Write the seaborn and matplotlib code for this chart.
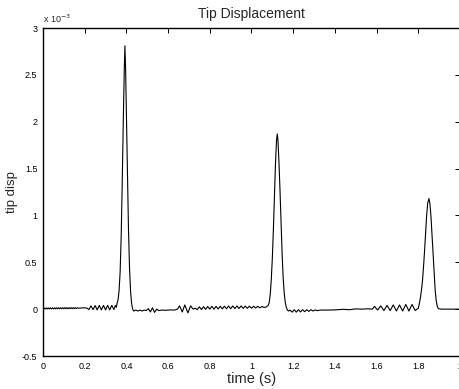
import numpy as np
import pandas as pd
import matplotlib
matplotlib.use("Agg")
import matplotlib.pyplot as plt
import seaborn as sns

# tip displacement, values in units of 1e-3
t_start = [0.000, 0.005, 0.010, 0.015, 0.020, 0.025, 0.030, 0.035, 0.040, 0.045,
           0.050, 0.055, 0.060, 0.065, 0.070, 0.075, 0.080, 0.085, 0.090, 0.095,
           0.100, 0.105, 0.110, 0.115, 0.120, 0.125, 0.130, 0.135, 0.140, 0.145,
           0.150, 0.155, 0.160, 0.165, 0.170, 0.180, 0.195, 0.210]
d_start = [0.000, 0.012, 0.001, 0.013, 0.002, 0.013, 0.002, 0.014, 0.002, 0.014,
           0.003, 0.014, 0.003, 0.015, 0.003, 0.015, 0.004, 0.015, 0.004, 0.015,
           0.004, 0.016, 0.004, 0.016, 0.004, 0.016, 0.005, 0.016, 0.005, 0.016,
           0.005, 0.016, 0.005, 0.016, 0.010, 0.012, 0.014, 0.012]

t_ripple1 = [0.220, 0.230, 0.240, 0.250, 0.260, 0.270, 0.280, 0.290, 0.300,
             0.310, 0.320, 0.330, 0.340, 0.347, 0.352]
d_ripple1 = [-0.005, 0.035, -0.005, 0.038, -0.008, 0.040, -0.008, 0.040, -0.008,
             0.040, -0.008, 0.040, -0.005, 0.040, 0.020]

t_peak1 = [0.355, 0.360, 0.365, 0.370, 0.375, 0.380, 0.385, 0.390, 0.393,
           0.396, 0.400, 0.405, 0.410, 0.415, 0.420, 0.425, 0.430, 0.435]
d_peak1 = [0.06, 0.10, 0.20, 0.40, 0.78, 1.35, 2.00, 2.58, 2.81,
           2.58, 2.10, 1.45, 0.85, 0.44, 0.19, 0.06, 0.00, -0.02]

t_mid1 = [0.445, 0.455, 0.465, 0.475, 0.485, 0.495, 0.505, 0.515, 0.525, 0.535,
          0.545, 0.555, 0.570, 0.590, 0.610, 0.630, 0.645, 0.655, 0.668, 0.680,
          0.695, 0.708, 0.720, 0.730]
d_mid1 = [-0.010, -0.020, -0.010, -0.020, -0.010, -0.015, 0.005, -0.030, 0.015, -0.035,
          0.000, -0.015, -0.010, -0.012, -0.008, -0.010, 0.000, 0.035, -0.030, 0.045,
          -0.040, 0.035, 0.000, 0.010]

t_ripple2 = [0.74, 0.75, 0.76, 0.77, 0.78, 0.79, 0.80, 0.81, 0.82, 0.83, 0.84, 0.85,
             0.86, 0.87, 0.88, 0.89, 0.90, 0.91, 0.92, 0.93, 0.94, 0.95, 0.96, 0.97,
             0.98, 0.99, 1.00, 1.01, 1.02, 1.03, 1.04, 1.05, 1.06, 1.07]
d_ripple2 = [-0.005, 0.025, -0.004, 0.026, -0.002, 0.028, 0.000, 0.030, 0.000, 0.030,
             0.002, 0.031, 0.003, 0.032, 0.004, 0.033, 0.005, 0.034, 0.006, 0.034,
             0.007, 0.034, 0.008, 0.033, 0.009, 0.032, 0.010, 0.031, 0.012, 0.030,
             0.014, 0.028, 0.018, 0.022]

t_peak2 = [1.080, 1.085, 1.090, 1.095, 1.100, 1.105, 1.110, 1.115, 1.120, 1.1235,
           1.127, 1.132, 1.137, 1.142, 1.147, 1.152, 1.157, 1.162, 1.167, 1.172, 1.178]
d_peak2 = [0.04, 0.07, 0.16, 0.32, 0.55, 0.85, 1.20, 1.55, 1.80, 1.87,
           1.80, 1.55, 1.25, 0.90, 0.58, 0.33, 0.17, 0.07, 0.02, -0.01, -0.02]

t_mid2 = [1.185, 1.195, 1.205, 1.215, 1.225, 1.235, 1.245, 1.255, 1.265, 1.275,
          1.285, 1.295, 1.305, 1.315, 1.330, 1.360, 1.400, 1.440, 1.470, 1.500,
          1.530, 1.560, 1.580]
d_mid2 = [-0.010, -0.032, -0.006, -0.032, -0.006, -0.030, -0.006, -0.027, -0.006, -0.024,
          -0.006, -0.020, -0.008, -0.016, -0.010, -0.010, -0.008, -0.002, -0.006, 0.003,
          0.000, 0.004, 0.000]

t_ripple3 = [1.590, 1.605, 1.620, 1.635, 1.650, 1.665, 1.680, 1.695, 1.710,
             1.725, 1.740, 1.755, 1.770, 1.785, 1.800]
d_ripple3 = [0.030, -0.010, 0.035, -0.015, 0.040, -0.015, 0.045, -0.020, 0.045,
             -0.020, 0.050, -0.020, 0.050, -0.015, 0.010]

t_peak3 = [1.805, 1.810, 1.815, 1.820, 1.825, 1.830, 1.835, 1.840, 1.845, 1.851,
           1.856, 1.861, 1.866, 1.871, 1.876, 1.881, 1.886, 1.891, 1.896, 1.910,
           1.950, 2.000]
d_peak3 = [0.06, 0.12, 0.20, 0.30, 0.45, 0.62, 0.82, 1.00, 1.13, 1.18,
           1.12, 0.98, 0.78, 0.56, 0.36, 0.20, 0.09, 0.03, 0.005, 0.00,
           0.00, 0.00]

x_ticks = [0, 0.2, 0.4, 0.6, 0.8, 1, 1.2, 1.4, 1.6, 1.8, 2]
x_labels = ["0", "0.2", "0.4", "0.6", "0.8", "1", "1.2", "1.4", "1.6", "1.8", "2"]
y_ticks = [-0.5, 0, 0.5, 1, 1.5, 2, 2.5, 3]
y_labels = ["-0.5", "0", "0.5", "1", "1.5", "2", "2.5", "3"]

df = pd.DataFrame({
    "time": np.concatenate([t_start, t_ripple1, t_peak1, t_mid1, t_ripple2,
                            t_peak2, t_mid2, t_ripple3, t_peak3]),
    "disp": np.concatenate([d_start, d_ripple1, d_peak1, d_mid1, d_ripple2,
                            d_peak2, d_mid2, d_ripple3, d_peak3]),
})

sns.set_theme(style="white")
plt.rcParams["font.family"] = ["Liberation Sans", "DejaVu Sans"]

fig = plt.figure(figsize=(4.59, 3.89), dpi=100)
ax = fig.add_axes([43 / 459, 1 - 356 / 389, (460 - 43) / 459, (356 - 28) / 389])

sns.lineplot(data=df, x="time", y="disp", ax=ax, color="black", linewidth=0.8,
             estimator=None, sort=False)

ax.set_xlim(0, 2)
ax.set_ylim(-0.5, 3)
ax.set_xticks(x_ticks)
ax.set_xticklabels(x_labels)
ax.set_yticks(y_ticks)
ax.set_yticklabels(y_labels)
ax.tick_params(direction="in", length=3.5, width=0.7, labelsize=6.5, pad=4,
               top=True, right=True, colors="black")
for s in ax.spines.values():
    s.set_visible(True)
    s.set_color("black")
    s.set_linewidth(1.0)

ax.set_title("Tip Displacement", fontsize=10, pad=7)
ax.set_xlabel("time (s)", fontsize=10.5, labelpad=1)
ax.set_ylabel("tip disp", fontsize=9.5, labelpad=3)
ax.text(0, 1.01, r"x 10$^{-3}$", transform=ax.transAxes, fontsize=6.5,
        ha="left", va="bottom")

fig.savefig("out.png", dpi=100)
